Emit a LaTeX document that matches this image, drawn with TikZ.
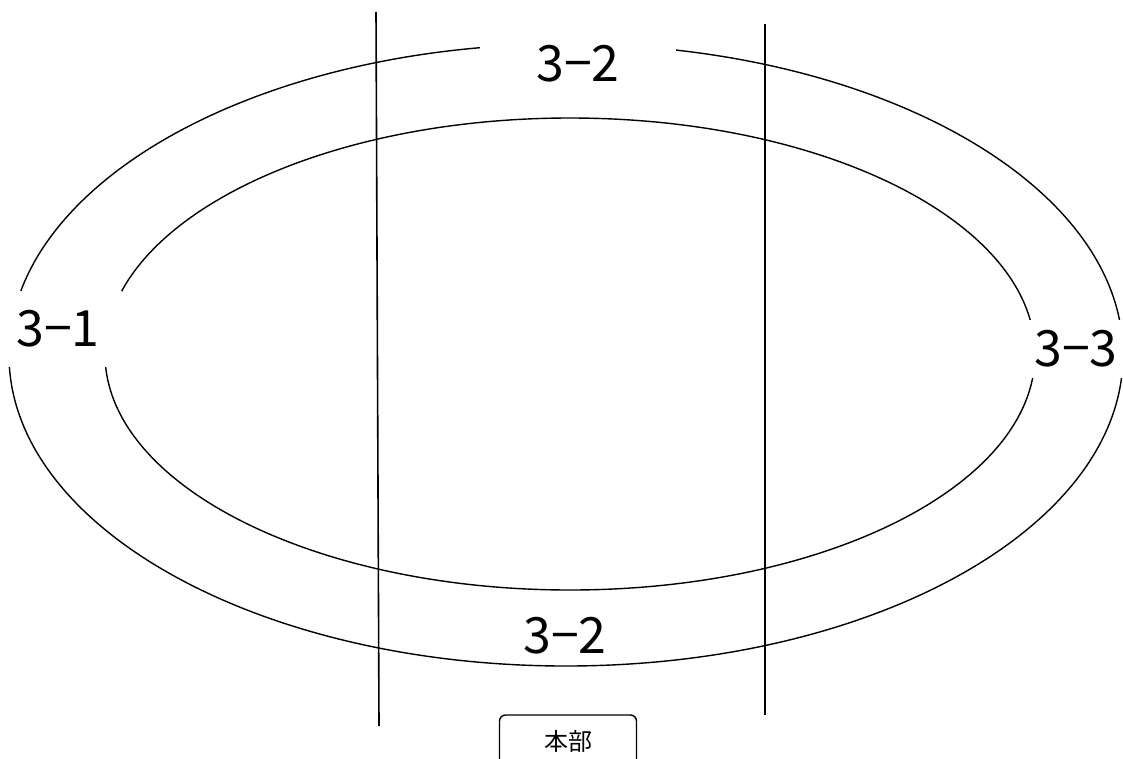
\documentclass[tikz,border=0pt]{standalone}
\usepackage{fontspec}
\newfontfamily\jpfont{Noto Sans CJK JP}
\usetikzlibrary{positioning}

\begin{document}
\begin{tikzpicture}[
  x=1pt, y=-1pt,
  font=\jpfont,
  ring/.style={draw=black, line width=1.4pt},
  divider/.style={draw=black, line width=1.6pt},
  lbl/.style={font=\jpfont\fontsize{50}{50}\selectfont, inner sep=0pt},
  cover/.style={lbl, fill=white},
  hq/.style={rectangle, rounded corners=6pt, draw=black, line width=1.4pt,
             minimum width=137pt, minimum height=52pt,
             font=\jpfont\fontsize{24}{24}\selectfont},
]
\useasboundingbox (0,0) rectangle (1123,758);

% ---- rings ----
\draw[ring] (566,355) ellipse [x radius=557pt, y radius=311pt];
\draw[ring] (570,354) ellipse [x radius=465pt, y radius=236pt];

% ---- dividing lines ----
\coordinate (d1top) at (376,12);
\coordinate (d1bot) at (379,726);
\coordinate (d2top) at (765,24);
\coordinate (d2bot) at (765,715);
\draw[divider] (d1top) -- (d1bot);
\draw[divider] (d2top) -- (d2bot);

% ---- section labels ----
\node[cover, minimum width=196pt, minimum height=56pt] (top) at (578,64) {3−2};
\node[cover, minimum width=128pt, minimum height=76pt] (west) at (58,329) {3−1};
\node[cover, minimum width=100pt, minimum height=58pt] (east) at (1076,349) {3−3};
\node[lbl] (bottom) at (565,636) {3−2};

% ---- headquarters box ----
\node[hq] (hq) at (568,741) {本部};

\end{tikzpicture}
\end{document}
